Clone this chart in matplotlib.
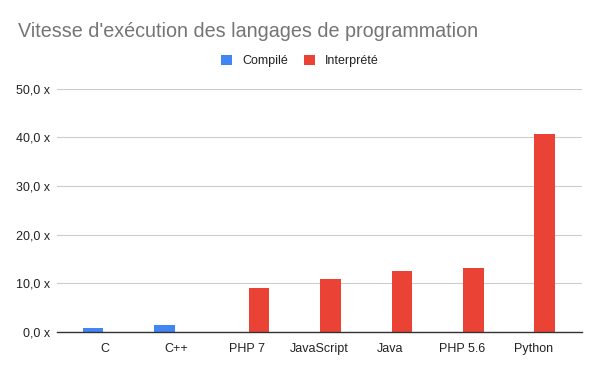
import numpy as np
import matplotlib.pyplot as plt

# données
langages = ["C", "C++", "PHP 7", "JavaScript", "Java", "PHP 5.6", "Python"]
compile_vals = [0.82, 1.44, 0, 0, 0, 0, 0]
interprete_vals = [0, 0, 9.0, 10.9, 12.5, 13.1, 40.6]
yticks = [0, 10, 20, 30, 40, 50]

plt.rcParams["font.family"] = ["Liberation Sans", "DejaVu Sans"]

fig = plt.figure(figsize=(6, 3.71), dpi=100)
ax = fig.add_axes([0.095, 0.105, 0.875, 0.656])

x = np.arange(len(langages))
w = 0.29
off = 0.16
ax.bar(x - off, compile_vals, w, color="#4285f4", label="Compilé", zorder=3)
ax.bar(x + off, interprete_vals, w, color="#ea4335", label="Interprété", zorder=3)

ax.set_xlim(-0.665, 6.68)
ax.set_ylim(0, 50)
ax.set_yticks(yticks)
ax.set_yticklabels([f"{v:.1f}".replace(".", ",") + " x" for v in yticks])
ax.set_xticks(x)
ax.set_xticklabels(langages)
ax.tick_params(axis="both", length=0, labelsize=9, colors="#222222")
ax.tick_params(axis="y", pad=5)
ax.tick_params(axis="x", pad=8)

ax.grid(axis="y", color="#cccccc", linewidth=0.8, zorder=0)
for s in ["top", "right", "left"]:
    ax.spines[s].set_visible(False)
ax.spines["bottom"].set_color("#333333")
ax.spines["bottom"].set_linewidth(1)
ax.spines["bottom"].set_zorder(4)

fig.text(0.03, 0.915, "Vitesse d'exécution des langages de programmation",
         fontsize=14.25, color="#757575", va="center", ha="left")
fig.legend(loc="center", bbox_to_anchor=(0.5, 0.835), ncol=2, frameon=False,
           fontsize=9, handlelength=0.9, handleheight=0.9, columnspacing=1.25,
           handletextpad=0.8, labelcolor="#222222")

fig.savefig("out.png", dpi=100)
